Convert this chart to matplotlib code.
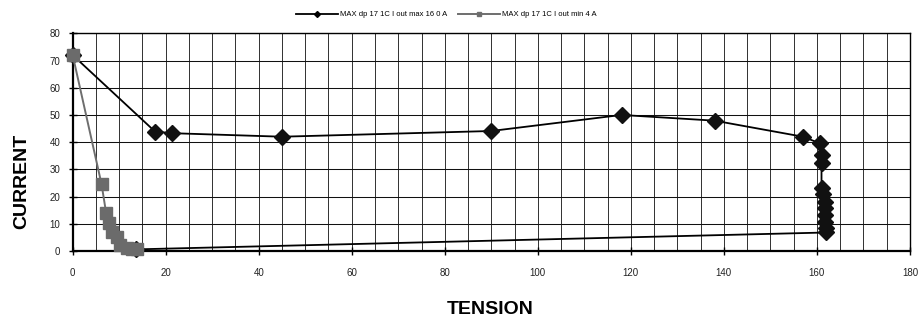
import matplotlib
matplotlib.use("Agg")
import matplotlib.pyplot as plt
from matplotlib.lines import Line2D
from matplotlib.ticker import MultipleLocator

plt.rcParams['font.family'] = ['Liberation Sans', 'DejaVu Sans']

# Series at Iout max 160 A
tension_max = [0, 17.7, 21.3, 45, 90, 118, 138, 157, 160.6, 161.2, 161.0, 161.0,
               161.4, 161.7, 161.8, 161.8, 161.8, 161.9, 162.0, 13.6]
current_max = [72, 43.9, 43.3, 42.0, 44.1, 50.0, 47.9, 42.0, 39.6, 35.3, 32.2, 23.0,
               21.0, 18.1, 15.7, 13.2, 10.8, 8.3, 6.8, 0.6]

# Series at Iout min 4 A
tension_min = [0, 6.2, 7.2, 7.9, 8.4, 9.5, 10.2, 11.6, 12.8, 13.8]
current_min = [72, 24.6, 13.9, 10.2, 7.1, 5.3, 2.2, 1.2, 0.8, 0.6]

label_max = "MAX dp 17 1C I out max 16 0 A"
label_min = "MAX dp 17 1C I out min 4 A"

x_ticks = list(range(0, 181, 20))
y_ticks = list(range(0, 81, 10))

fig = plt.figure(figsize=(9.2, 3.24), dpi=100)
ax = fig.add_axes([0.079, 0.2253, 0.910, 0.6719])

ax.set_xlim(0, 180)
ax.set_ylim(0, 80)
ax.set_xticks(x_ticks)
ax.set_yticks(y_ticks)
ax.xaxis.set_minor_locator(MultipleLocator(5))
ax.grid(True, which='both', axis='x', color='#222222', linewidth=0.65)
ax.grid(True, which='major', axis='y', color='#111111', linewidth=0.75)
ax.set_axisbelow(True)

for side in ['top', 'right']:
    ax.spines[side].set_linewidth(1.0)
for side in ['left', 'bottom']:
    ax.spines[side].set_linewidth(1.6)

ax.tick_params(axis='both', which='major', direction='inout', length=6, width=1.0,
               labelsize=7, colors='black', labelcolor='#222222')
ax.tick_params(axis='x', which='major', pad=9)
ax.tick_params(axis='y', which='major', pad=6)
ax.tick_params(axis='x', which='minor', length=0)

ax.plot(tension_max, current_max, color='black', linewidth=1.3, marker='D',
        markersize=8, markerfacecolor='#111111', markeredgecolor='#111111',
        clip_on=False, zorder=3)
ax.plot(tension_min, current_min, color='#6e6e6e', linewidth=1.4, marker='s',
        markersize=8.5, markerfacecolor='#6b6b6b', markeredgecolor='#6b6b6b',
        clip_on=False, zorder=4)

fig.text(0.024, 0.44, "CURRENT", rotation=90, fontsize=14, fontweight='bold',
         ha='center', va='center')
fig.text(0.533, 0.045, "TENSION", fontsize=14, fontweight='bold',
         ha='center', va='center')

handles = [
    Line2D([0], [0], color='black', linewidth=1.3, marker='D', markersize=3,
           markerfacecolor='black'),
    Line2D([0], [0], color='#6e6e6e', linewidth=1.4, marker='s', markersize=3,
           markerfacecolor='#6b6b6b'),
]
fig.legend(handles, [label_max, label_min], loc='center', bbox_to_anchor=(0.485, 0.955),
           ncol=2, frameon=False, fontsize=5.5, handlelength=5.5, columnspacing=1.5,
           handletextpad=0.2)

fig.savefig("out.png", dpi=100, facecolor='white')
